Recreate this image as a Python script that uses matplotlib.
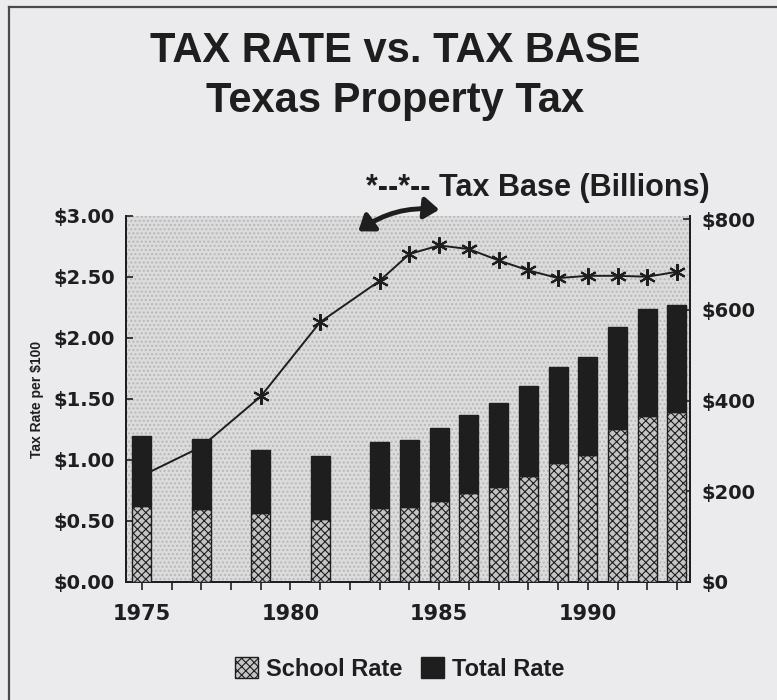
import matplotlib
matplotlib.use('Agg')
import matplotlib.pyplot as plt
from matplotlib.patches import Patch, Rectangle, FancyArrowPatch
from matplotlib.lines import Line2D

# data
years = [1975, 1977, 1979, 1981, 1983, 1984, 1985, 1986, 1987, 1988, 1989, 1990, 1991, 1992, 1993]
school_rate = [0.625, 0.596, 0.563, 0.516, 0.604, 0.617, 0.666, 0.732, 0.781, 0.869, 0.973, 1.043, 1.252, 1.361, 1.396]
total_rate = [1.20, 1.17, 1.08, 1.03, 1.15, 1.164, 1.265, 1.371, 1.467, 1.607, 1.765, 1.847, 2.088, 2.238, 2.273]
tax_base = [234, 298, 409, 573, 664, 723, 742, 734, 709, 687, 670, 675, 675, 673, 684]

left_ticks = [0, 0.5, 1.0, 1.5, 2.0, 2.5, 3.0]
left_labels = ['$0.00', '$0.50', '$1.00', '$1.50', '$2.00', '$2.50', '$3.00']
right_ticks = [0, 200, 400, 600, 800]
right_labels = ['$0', '$200', '$400', '$600', '$800']
year_ticks = list(range(1975, 1994))
year_labels = [str(y) if y % 5 == 0 else '' for y in year_ticks]

ink = '#1e1e1e'
paper = '#ebebee'
tick_font = dict(family='DejaVu Sans', weight='bold', size=14)

fig = plt.figure(figsize=(7.77, 7.0), dpi=100)
fig.patch.set_facecolor(paper)

ax = fig.add_axes([0.1622, 0.1686, 0.7259, 0.5229])
ax2 = ax.twinx()

# stippled plot background lives on the back axes
ax2.patch.set_visible(False)
ax2.add_patch(Rectangle((0, 0), 1, 1, transform=ax2.transAxes, facecolor='#dcdcdc',
                        edgecolor='#b8b8b8', hatch='....', linewidth=0, zorder=0))
ax2.plot(years, tax_base, color=ink, lw=1.4, marker=(6, 2, 0), markersize=12,
         markeredgewidth=1.5, zorder=3)
ax2.set_ylim(0, 807)

ax.set_zorder(ax2.get_zorder() + 1)
ax.patch.set_visible(False)
upper = [t - s for t, s in zip(total_rate, school_rate)]
plt.rcParams['hatch.linewidth'] = 0.8
ax.bar(years, school_rate, width=0.64, color='#c4c4c4', edgecolor=ink, hatch='xxxx', lw=1.0, zorder=3)
ax.bar(years, upper, bottom=school_rate, width=0.64, color=ink, edgecolor=ink, lw=1.0, zorder=3)

ax.set_xlim(1974.47, 1993.44)
ax.set_ylim(0, 3.0)
for a in (ax, ax2):
    a.spines['top'].set_visible(False)
    for s in ('left', 'right', 'bottom'):
        a.spines[s].set_color(ink)
        a.spines[s].set_linewidth(1.3)

ax.set_yticks(left_ticks)
ax.set_yticklabels(left_labels, **tick_font, color=ink)
ax.tick_params(axis='y', direction='in', length=5, width=1.2, color=ink, pad=8)
ax2.set_yticks(right_ticks)
ax2.set_yticklabels(right_labels, **tick_font, color=ink)
ax2.tick_params(axis='y', direction='in', length=5, width=1.2, color=ink, pad=8)
ax.set_xticks(year_ticks)
ax.set_xticklabels(year_labels, family='DejaVu Sans', weight='bold', size=15, color=ink)
ax.tick_params(axis='x', direction='out', length=6, width=1.2, color=ink, pad=10)

ax.set_ylabel('Tax Rate per $100', family='Liberation Sans', weight='bold', size=10, color=ink)
ax.yaxis.set_label_coords(-0.145, 0.5)

title_font = dict(family='Liberation Sans', weight='bold', size=30, color=ink, ha='center')
fig.text(0.508, 1 - 62 / 700, 'TAX RATE vs. TAX BASE', va='baseline', **title_font)
fig.text(0.508, 1 - 112 / 700, 'Texas Property Tax', va='baseline', **title_font)

fig.text(538 / 777, 1 - 188 / 700, '*--*-- Tax Base (Billions)', family='Liberation Sans',
         weight='bold', size=22, color=ink, ha='center', va='center')

arrow = FancyArrowPatch((356 / 777, 1 - 233 / 700), (442 / 777, 1 - 210 / 700),
                        transform=fig.transFigure, connectionstyle='arc3,rad=-0.2',
                        arrowstyle='<|-|>,head_length=0.55,head_width=0.4',
                        mutation_scale=16, lw=3.5, color=ink)
fig.add_artist(arrow)

handles = [Patch(facecolor='#c4c4c4', edgecolor=ink, hatch='xxxx', lw=1.0),
           Patch(facecolor=ink, edgecolor=ink)]
fig.legend(handles, ['School Rate', 'Total Rate'], loc='center', bbox_to_anchor=(0.514, 1 - 669 / 700),
           ncol=2, frameon=False, handlelength=1.0, handleheight=0.95, handletextpad=0.3,
           columnspacing=0.8, prop=dict(family='Liberation Sans', weight='bold', size=17),
           labelcolor=ink)

# scan frame (top and left edges)
fig.add_artist(Line2D([9 / 777, 9 / 777], [0, 1 - 7 / 700], transform=fig.transFigure, color='#4a4a4a', lw=1.6))
fig.add_artist(Line2D([9 / 777, 1], [1 - 7 / 700, 1 - 7 / 700], transform=fig.transFigure, color='#4a4a4a', lw=1.6))

fig.savefig('out.png', dpi=100, facecolor=paper)
